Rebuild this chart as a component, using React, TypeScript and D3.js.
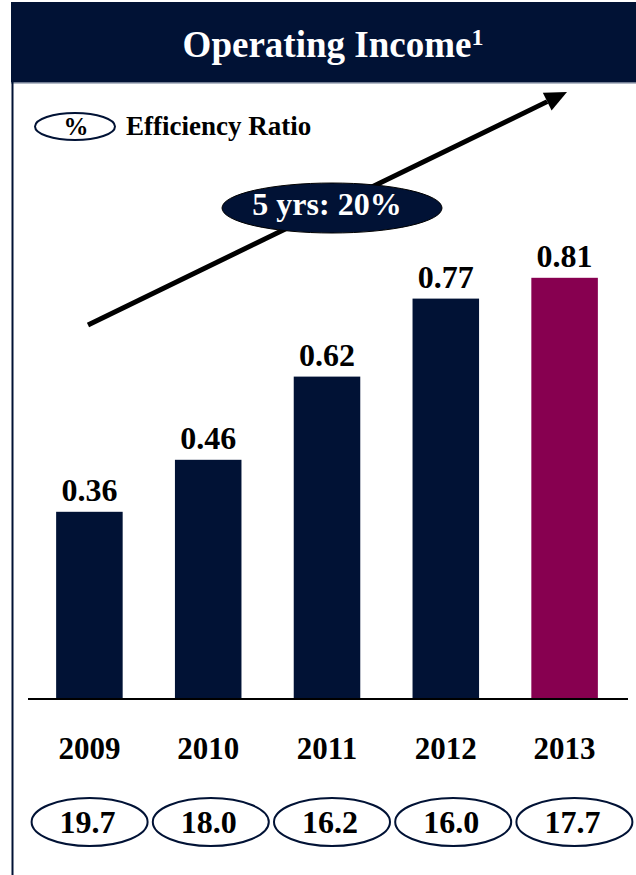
import React from "react";
import * as d3 from "d3";

const years = ["2009", "2010", "2011", "2012", "2013"];
const operatingIncome = [0.36, 0.46, 0.62, 0.77, 0.81];
const efficiencyRatio = ["19.7", "18.0", "16.2", "16.0", "17.7"];
const title = "Operating Income";
const titleNote = "1";
const legendSymbol = "%";
const legendLabel = "Efficiency Ratio";
const growthLabel = "5 yrs: 20%";

const W = 636;
const H = 875;
const NAVY = "#011235";
const MAROON = "#870050";
const FONT = "'Liberation Serif', 'Times New Roman', serif";

export default function App() {
  const x = d3.scaleBand<string>().domain(years).range([30, 624]).paddingInner(0.44).paddingOuter(0.22);
  const xe = d3.scaleBand<string>().domain(years).range([29, 635]);
  const y = d3.scaleLinear().domain([0, 1]).range([699, 179]);

  const arrow = { x1: 88, y1: 325, x2: 567, y2: 92 };
  const ang = Math.atan2(arrow.y2 - arrow.y1, arrow.x2 - arrow.x1);
  const headLen = 22;
  const headW = 10;
  const bx = arrow.x2 - headLen * Math.cos(ang);
  const by = arrow.y2 - headLen * Math.sin(ang);
  const head = [
    [arrow.x2, arrow.y2],
    [bx + headW * Math.sin(ang), by - headW * Math.cos(ang)],
    [bx - headW * Math.sin(ang), by + headW * Math.cos(ang)],
  ];

  return (
    <svg width={W} height={H} style={{ position: "absolute", left: 0, top: 0 }} fontFamily={FONT}>
      <rect x={0} y={0} width={W} height={H} fill="#fff" />
      {/* header */}
      <rect x={11} y={2} width={W - 11} height={81} fill={NAVY} />
      <line x1={11} x2={W} y1={83} y2={83} stroke="#9aa3b5" strokeWidth={1.5} />
      <line x1={12.5} x2={12.5} y1={2} y2={H} stroke={NAVY} strokeWidth={2} />
      <text x={333} y={57} textAnchor="middle" fill="#fff" fontWeight="bold" fontSize={37}>
        {title}
        <tspan fontSize={24} dy={-12}>{titleNote}</tspan>
      </text>

      {/* legend */}
      <ellipse cx={75} cy={126.5} rx={40} ry={13.5} fill="#fff" stroke={NAVY} strokeWidth={2} />
      <text x={76} y={135} textAnchor="middle" fontWeight="bold" fontSize={25} fill="#000">{legendSymbol}</text>
      <text x={126} y={135} fontWeight="bold" fontSize={27} fill="#000">{legendLabel}</text>

      {/* growth arrow */}
      <line x1={arrow.x1} y1={arrow.y1} x2={bx} y2={by} stroke="#000" strokeWidth={5} />
      <polygon points={head.map((p) => p.join(",")).join(" ")} fill="#000" />
      <ellipse cx={332} cy={208} rx={110} ry={25} fill={NAVY} stroke="#000" strokeWidth={1} />
      <text x={327} y={215} textAnchor="middle" fill="#fff" fontWeight="bold" fontSize={32}>{growthLabel}</text>

      {/* bars */}
      {years.map((yr, i) => (
        <g key={yr}>
          <rect
            x={x(yr)}
            y={y(operatingIncome[i])}
            width={x.bandwidth()}
            height={y(0) - y(operatingIncome[i])}
            fill={i === years.length - 1 ? MAROON : NAVY}
          />
          <text
            x={(x(yr) as number) + x.bandwidth() / 2}
            y={y(operatingIncome[i]) - 11}
            textAnchor="middle"
            fontWeight="bold"
            fontSize={32}
            fill="#000"
          >
            {operatingIncome[i].toFixed(2)}
          </text>
          <text
            x={(x(yr) as number) + x.bandwidth() / 2}
            y={759}
            textAnchor="middle"
            fontWeight="bold"
            fontSize={31}
            fill="#000"
          >
            {yr}
          </text>
          <ellipse
            cx={(xe(yr) as number) + xe.bandwidth() / 2}
            cy={822}
            rx={58}
            ry={24}
            fill="#fff"
            stroke={NAVY}
            strokeWidth={2}
          />
          <text
            x={(xe(yr) as number) + xe.bandwidth() / 2 - 2}
            y={833}
            textAnchor="middle"
            fontWeight="bold"
            fontSize={32}
            fill="#000"
          >
            {efficiencyRatio[i]}
          </text>
        </g>
      ))}
      <line x1={28} x2={628} y1={y(0)} y2={y(0)} stroke="#000" strokeWidth={2} />
    </svg>
  );
}
